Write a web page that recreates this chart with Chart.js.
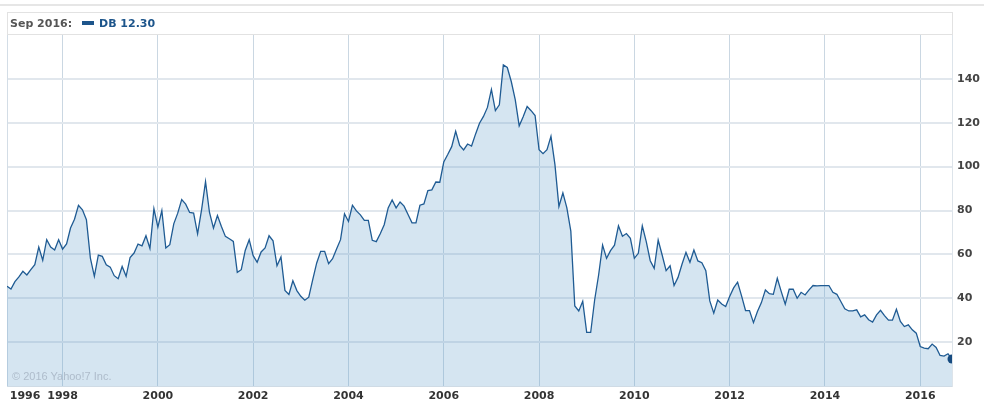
<!DOCTYPE html>
<html>
<head>
<meta charset="utf-8">
<script src="https://cdn.jsdelivr.net/npm/chart.js@4.4.1/dist/chart.umd.min.js"></script>
<style>
  html, body { margin: 0; padding: 0; background: #fff; }
  #wrap { position: relative; width: 984px; height: 407px; overflow: hidden; }
  #topline { position: absolute; left: 0; top: 4px; width: 984px; height: 2px; background: #e6e6e6; }
  #head { position: absolute; left: 7px; top: 12px; width: 944px; height: 21px; border: 1px solid #e2e2e2;
          font: bold 11px "DejaVu Sans", Verdana, sans-serif; line-height: 21px; }
  #head .date { position: absolute; left: 2px; top: 0; color: #555; }
  #head .sw { position: absolute; left: 74px; top: 8px; width: 12px; height: 4px; background: #1d558b; }
  #head .val { position: absolute; left: 91px; top: 0; color: #1d558b; }
  #credit { position: absolute; left: 12px; top: 370px; font: 11px "Liberation Sans", Arial, sans-serif;
            line-height: 13px; color: #aebccb; }
  #box { position: absolute; left: 0; top: 0; width: 984px; height: 407px; }
</style>
</head>
<body>
<div id="wrap">
  <div id="box"><canvas id="chart"></canvas></div>
  <div id="topline"></div>
  <div id="head"><span class="date"></span><span class="sw"></span><span class="val"></span></div>
  <div id="credit">© 2016 Yahoo!7 Inc.</div>
</div>
<script>
// monthly closes, Nov 1996 .. Sep 2016
var firstYear = 1996, firstMonth = 11;
var monthNames = ['Jan', 'Feb', 'Mar', 'Apr', 'May', 'Jun', 'Jul', 'Aug', 'Sep', 'Oct', 'Nov', 'Dec'];
var prices = [
  45.5, 44.2, 47.6, 49.7, 52.3, 50.6, 53.0, 55.3, 63.3, 57.3, 66.7, 63.3, 62.0, 66.7, 62.4, 64.8, 72.0, 76.0, 82.4, 80.3,
  75.8, 58.3, 50.0, 59.7, 59.1, 55.3, 54.2, 50.3, 48.9, 54.5, 50.0, 58.6, 60.6, 64.7, 63.9, 68.5, 62.7, 80.8, 72.4, 80.0,
  62.9, 64.4, 73.9, 78.8, 85.0, 82.9, 79.1, 78.8, 69.4, 80.3, 93.2, 79.1, 72.0, 77.7, 72.7, 68.2, 67.1, 65.9, 51.8, 53.0,
  61.8, 66.7, 59.4, 56.4, 61.1, 62.9, 68.5, 66.2, 54.8, 58.8, 43.6, 41.7, 48.0, 43.5, 40.9, 39.1, 40.5, 48.5, 56.1, 61.4,
  61.4, 55.8, 58.0, 62.4, 66.7, 78.5, 75.0, 82.4, 79.8, 78.0, 75.5, 75.5, 66.4, 65.8, 69.4, 73.5, 81.2, 84.8, 81.2, 83.9,
  82.0, 78.2, 74.4, 74.4, 82.4, 83.0, 89.1, 89.4, 93.0, 92.9, 102.1, 105.5, 109.1, 116.1, 109.7, 107.6, 110.3, 109.4, 114.8, 119.8,
  122.9, 127.0, 135.2, 125.5, 128.2, 146.4, 145.2, 138.8, 130.5, 118.6, 122.7, 127.4, 125.5, 123.3, 107.7, 105.9, 107.7, 113.8, 100.9, 81.8,
  88.0, 81.2, 70.6, 36.5, 34.2, 38.6, 24.4, 24.4, 39.2, 50.6, 64.2, 58.2, 61.7, 64.2, 73.0, 68.3, 69.5, 67.3, 58.2, 60.5,
  73.0, 65.8, 57.1, 53.6, 66.5, 59.7, 52.6, 54.8, 45.8, 49.5, 55.5, 60.9, 56.4, 62.0, 57.0, 56.2, 52.6, 38.8, 33.2, 39.2,
  37.4, 36.2, 40.8, 44.7, 47.3, 41.1, 34.4, 34.4, 28.9, 34.0, 38.0, 43.8, 42.1, 41.8, 49.1, 43.0, 37.3, 44.1, 44.1, 40.0,
  42.7, 41.5, 43.8, 45.8, 45.6, 45.8, 45.8, 45.8, 42.7, 41.8, 38.5, 35.2, 34.2, 34.2, 34.7, 31.5, 32.4, 30.2, 29.1, 32.4,
  34.5, 32.1, 30.0, 30.0, 35.0, 29.4, 27.1, 27.9, 25.6, 24.1, 18.0, 17.3, 17.0, 19.1, 17.6, 13.9, 13.6, 14.7, 12.30
];
var xTickYears = [1996, 1998, 2000, 2002, 2004, 2006, 2008, 2010, 2012, 2014, 2016];
var xTickLabels = ['1996', '1998', '2000', '2002', '2004', '2006', '2008', '2010', '2012', '2014', '2016'];
var yTickValues = [20, 40, 60, 80, 100, 120, 140];

// month -> decimal year for the linear x axis
var months = [];
var points = [];
for (var i = 0; i < prices.length; i++) {
  var m = firstMonth - 1 + i;
  var yr = firstYear + Math.floor(m / 12);
  months.push(monthNames[m % 12] + ' ' + yr);
  points.push({ x: yr + (m % 12) / 12, y: prices[i] });
}
var last = prices.length - 1;

document.querySelector('#head .date').textContent = months[last] + ':';
document.querySelector('#head .val').textContent = 'DB ' + prices[last].toFixed(2);

Chart.defaults.font.family = '"DejaVu Sans", Verdana, sans-serif';
Chart.defaults.font.size = 11;
Chart.defaults.font.weight = 'bold';

var leftEdge = {
  id: 'leftEdge',
  beforeDatasetsDraw: function (chart) {
    var a = chart.chartArea, c = chart.ctx;
    c.save();
    c.strokeStyle = '#d3dde6';
    c.lineWidth = 1;
    c.beginPath();
    c.moveTo(Math.round(a.left) + 0.5, a.top);
    c.lineTo(Math.round(a.left) + 0.5, a.bottom);
    c.stroke();
    c.restore();
  }
};

new Chart(document.getElementById('chart'), {
  type: 'line',
  data: {
    datasets: [{
      label: 'DB',
      data: points,
      borderColor: '#1f5b93',
      borderWidth: 1.3,
      tension: 0,
      fill: 'origin',
      backgroundColor: 'rgba(104, 160, 204, 0.28)',
      pointRadius: function (ctx) { return ctx.dataIndex === last ? 4.5 : 0; },
      pointHoverRadius: 0,
      pointBorderWidth: 0,
      pointBackgroundColor: '#164b80'
    }]
  },
  options: {
    responsive: true,
    maintainAspectRatio: false,
    animation: false,
    layout: { padding: { top: 35, left: 7, right: 0, bottom: 0 } },
    plugins: { legend: { display: false }, tooltip: { enabled: false } },
    scales: {
      x: {
        type: 'linear',
        min: points[0].x,
        max: points[last].x,
        afterBuildTicks: function (scale) {
          scale.ticks = xTickYears.map(function (y, i) {
            // first label sits just inside the left edge, like the original
            return { value: i === 0 ? scale.min + 0.38 : y };
          });
        },
        afterFit: function (scale) { scale.height = 21; },
        grid: {
          drawTicks: false,
          lineWidth: 1,
          color: function (ctx) { return ctx.index === 0 ? 'rgba(0,0,0,0)' : '#cad7e2'; }
        },
        border: { color: '#cfdbe5', width: 1 },
        ticks: {
          padding: 4,
          color: '#333',
          autoSkip: false,
          maxRotation: 0,
          callback: function (v, i) { return xTickLabels[i]; }
        }
      },
      y: {
        position: 'right',
        min: 0,
        max: 160,
        afterBuildTicks: function (scale) {
          scale.ticks = yTickValues.map(function (v) { return { value: v }; });
        },
        afterFit: function (scale) { scale.width = 32; },
        grid: { drawTicks: false, lineWidth: 2, color: '#e1e7ed' },
        border: { color: '#dde4ea', width: 1 },
        ticks: { padding: 5, color: '#444' }
      }
    }
  },
  plugins: [leftEdge]
});
</script>
</body>
</html>
